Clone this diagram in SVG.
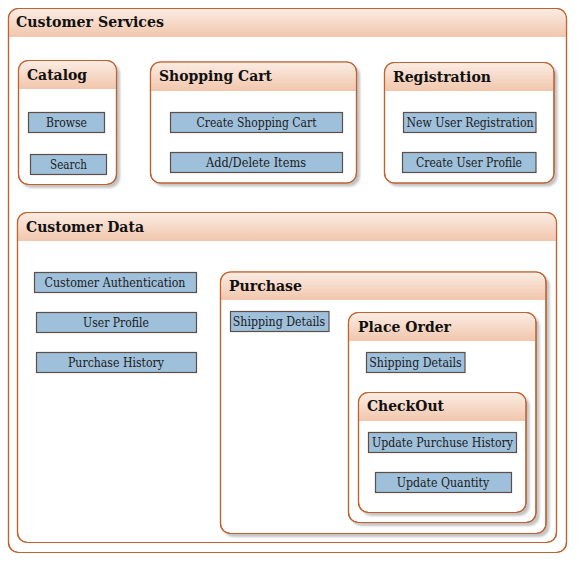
<svg xmlns="http://www.w3.org/2000/svg" width="579" height="562" viewBox="0 0 579 562">
<style>
.box{fill:#ffffff;stroke:#c0622f;stroke-width:1.2}
.hdr{fill:url(#hg)}
.title{font-family:"DejaVu Serif","Liberation Serif",serif;font-weight:bold;font-size:14px;fill:#111}
.item rect{fill:#9fc0da;stroke:#5e4e48;stroke-width:1.2}
.item text{font-family:"DejaVu Serif","Liberation Serif",serif;font-size:12px;fill:#1a1a1a;text-anchor:middle}
</style>
<defs>
<linearGradient id="hg" x1="0" y1="0" x2="0" y2="1">
<stop offset="0" stop-color="#fbece3"/>
<stop offset="1" stop-color="#f1c6ac"/>
</linearGradient>
<filter id="sh" x="-10%" y="-10%" width="130%" height="130%">
<feDropShadow dx="3" dy="3" stdDeviation="1.2" flood-color="#888" flood-opacity="0.5"/>
</filter>
</defs>

<g id="customer-services">
<rect class="box" x="8.5" y="8.5" width="558" height="544" rx="10"/>
<path class="hdr" d="M9,37 V18 a9,9 0 0 1 9,-9 H557 a9,9 0 0 1 9,9 V37 Z"/>
<rect x="8.5" y="8.5" width="558" height="544" rx="10" fill="none" stroke="#c0622f" stroke-width="1.2"/>
<text class="title" x="16" y="27" textLength="148" lengthAdjust="spacingAndGlyphs">Customer Services</text>
</g>

<g id="catalog">
<rect class="box" x="18.5" y="60.5" width="98" height="124" rx="10" filter="url(#sh)"/>
<path class="hdr" d="M19,89 V70 a9,9 0 0 1 9,-9 H107 a9,9 0 0 1 9,9 V89 Z"/>
<rect x="18.5" y="60.5" width="98" height="124" rx="10" fill="none" stroke="#c0622f" stroke-width="1.2"/>
<text class="title" x="27" y="80" textLength="60" lengthAdjust="spacingAndGlyphs">Catalog</text>
<g class="item" id="browse"><rect x="28.5" y="112.5" width="76" height="20"/><text x="66.5" y="127" textLength="41" lengthAdjust="spacingAndGlyphs">Browse</text></g>
<g class="item" id="search"><rect x="30.5" y="154.5" width="76" height="20"/><text x="68.5" y="169" textLength="37" lengthAdjust="spacingAndGlyphs">Search</text></g>
</g>

<g id="shopping-cart">
<rect class="box" x="150.5" y="62" width="206" height="121" rx="10" filter="url(#sh)"/>
<path class="hdr" d="M151,91 V71.5 a9,9 0 0 1 9,-9 H347 a9,9 0 0 1 9,9 V91 Z"/>
<rect x="150.5" y="62" width="206" height="121" rx="10" fill="none" stroke="#c0622f" stroke-width="1.2"/>
<text class="title" x="159" y="81" textLength="113" lengthAdjust="spacingAndGlyphs">Shopping Cart</text>
<g class="item" id="create-cart"><rect x="170.5" y="112.5" width="172" height="20"/><text x="256.5" y="127" textLength="120" lengthAdjust="spacingAndGlyphs">Create Shopping Cart</text></g>
<g class="item" id="add-delete"><rect x="170.5" y="152.5" width="172" height="20"/><text x="256" y="167" textLength="100" lengthAdjust="spacingAndGlyphs">Add/Delete Items</text></g>
</g>

<g id="registration">
<rect class="box" x="384.5" y="62.5" width="169.5" height="120.5" rx="10" filter="url(#sh)"/>
<path class="hdr" d="M385,91 V72 a9,9 0 0 1 9,-9 H544 a9,9 0 0 1 9,9 V91 Z"/>
<rect x="384.5" y="62.5" width="169.5" height="120.5" rx="10" fill="none" stroke="#c0622f" stroke-width="1.2"/>
<text class="title" x="393" y="81.5" textLength="98" lengthAdjust="spacingAndGlyphs">Registration</text>
<g class="item" id="new-user"><rect x="403.5" y="112.5" width="132.5" height="20"/><text x="470" y="127" textLength="127" lengthAdjust="spacingAndGlyphs">New User Registration</text></g>
<g class="item" id="create-profile"><rect x="402.5" y="152.5" width="133.5" height="20"/><text x="469" y="167" textLength="106" lengthAdjust="spacingAndGlyphs">Create User Profile</text></g>
</g>

<g id="customer-data">
<rect class="box" x="17.5" y="212.5" width="539" height="330" rx="10"/>
<path class="hdr" d="M18,241 V222 a9,9 0 0 1 9,-9 H547 a9,9 0 0 1 9,9 V241 Z"/>
<rect x="17.5" y="212.5" width="539" height="330" rx="10" fill="none" stroke="#c0622f" stroke-width="1.2"/>
<text class="title" x="26" y="231.5" textLength="118" lengthAdjust="spacingAndGlyphs">Customer Data</text>
<g class="item" id="cust-auth"><rect x="34.5" y="272.5" width="162" height="20"/><text x="115" y="287" textLength="141" lengthAdjust="spacingAndGlyphs">Customer Authentication</text></g>
<g class="item" id="user-profile"><rect x="36.5" y="312.5" width="160" height="20"/><text x="116" y="327" textLength="66" lengthAdjust="spacingAndGlyphs">User Profile</text></g>
<g class="item" id="purchase-history"><rect x="36.5" y="352.5" width="160" height="20"/><text x="116" y="367" textLength="96" lengthAdjust="spacingAndGlyphs">Purchase History</text></g>
</g>

<g id="purchase">
<rect class="box" x="220.5" y="272" width="325.5" height="261.5" rx="10" filter="url(#sh)"/>
<path class="hdr" d="M221,300 V281.5 a9,9 0 0 1 9,-9 H536 a9,9 0 0 1 9,9 V300 Z"/>
<rect x="220.5" y="272" width="325.5" height="261.5" rx="10" fill="none" stroke="#c0622f" stroke-width="1.2"/>
<text class="title" x="229" y="290.5" textLength="73" lengthAdjust="spacingAndGlyphs">Purchase</text>
<g class="item" id="shipping-1"><rect x="230.5" y="311.5" width="98.5" height="20"/><text x="279" y="325.5" textLength="92.5" lengthAdjust="spacingAndGlyphs">Shipping Details</text></g>
</g>

<g id="place-order">
<rect class="box" x="348.5" y="312.5" width="187.5" height="210" rx="10" filter="url(#sh)"/>
<path class="hdr" d="M349,341 V322 a9,9 0 0 1 9,-9 H526 a9,9 0 0 1 9,9 V341 Z"/>
<rect x="348.5" y="312.5" width="187.5" height="210" rx="10" fill="none" stroke="#c0622f" stroke-width="1.2"/>
<text class="title" x="358" y="331.5" textLength="93" lengthAdjust="spacingAndGlyphs">Place Order</text>
<g class="item" id="shipping-2"><rect x="366.5" y="352.5" width="98.5" height="20"/><text x="415.5" y="366.5" textLength="92.5" lengthAdjust="spacingAndGlyphs">Shipping Details</text></g>
</g>

<g id="checkout">
<rect class="box" x="358.5" y="392.5" width="167.5" height="120" rx="10" filter="url(#sh)"/>
<path class="hdr" d="M359,421 V402 a9,9 0 0 1 9,-9 H516 a9,9 0 0 1 9,9 V421 Z"/>
<rect x="358.5" y="392.5" width="167.5" height="120" rx="10" fill="none" stroke="#c0622f" stroke-width="1.2"/>
<text class="title" x="367" y="411" textLength="77" lengthAdjust="spacingAndGlyphs">CheckOut</text>
<g class="item" id="update-history"><rect x="368.5" y="432.5" width="148" height="20"/><text x="442.5" y="446.5" textLength="141" lengthAdjust="spacingAndGlyphs">Update Purchuse History</text></g>
<g class="item" id="update-quantity"><rect x="375.5" y="472.5" width="136" height="20"/><text x="443" y="486.5" textLength="92.5" lengthAdjust="spacingAndGlyphs">Update Quantity</text></g>
</g>

<g id="connectors"></g>
</svg>
